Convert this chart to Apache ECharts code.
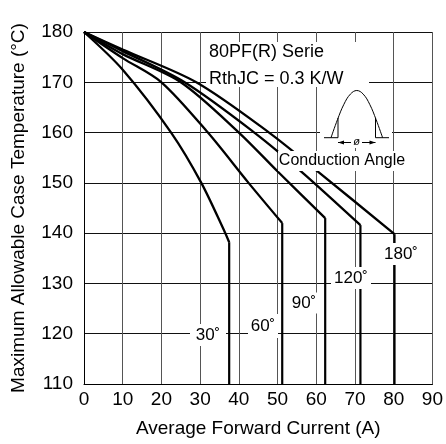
<!DOCTYPE html>
<html>
<head>
<meta charset="utf-8">
<script src="https://cdn.jsdelivr.net/npm/echarts@6/dist/echarts.min.js"></script>
<style>
html,body{margin:0;padding:0;background:#fff;}
#chart{width:446px;height:444px;}
</style>
</head>
<body>
<div id="chart"></div>
<script>
// ---- data ----
const xTicks = [0, 10, 20, 30, 40, 50, 60, 70, 80, 90];
const yTicks = [110, 120, 130, 140, 150, 160, 170, 180];
const angleNames = ['30˚', '60˚', '90˚', '120˚', '180˚'];
const curve30  = [[0,180],[10,172.5],[22.5,160],[30.3,150],[36.5,140],[37.5,138.2]];
const curve60  = [[0,180],[10,174.8],[20,170],[32,160],[42.5,150],[51.2,142]];
const curve90  = [[0,180],[10,175.6],[25,170],[40,160],[50.1,152.2],[62.3,143]];
const curve120 = [[0,180],[10,176.2],[26,170],[44,160],[56.2,152.2],[71.4,141.6]];
const curve180 = [[0,180],[10,176.5],[29,170],[47.8,160],[60.5,152.2],[80.2,139.8]];
const dropBottom = 110;

const curves = [curve30, curve60, curve90, curve120, curve180];

const series = [];
curves.forEach((c, i) => {
  series.push({
    type: 'line', name: angleNames[i], data: c, smooth: 0.3,
    showSymbol: false, lineStyle: {color: '#000', width: 2.3}, z: 2, animation: false
  });
  const last = c[c.length - 1];
  series.push({
    type: 'line', name: angleNames[i] + ' drop', data: [last, [last[0], dropBottom]],
    showSymbol: false, lineStyle: {color: '#000', width: 2.2}, z: 2, animation: false
  });
});

const FONT = 'Liberation Sans, Arial, sans-serif';

function labelBox(cx, cy, w, h, text, size) {
  return [
    {type: 'rect', z: 10, shape: {x: cx - w / 2, y: cy - h / 2, width: w, height: h}, style: {fill: '#fff'}},
    {type: 'text', z: 11, x: cx, y: cy, style: {text: text, fill: '#000', font: size + 'px ' + FONT, align: 'center', verticalAlign: 'middle'}}
  ];
}

const graphics = [].concat(
  // series box
  [{type: 'rect', z: 1, shape: {x: 206, y: 42, width: 163, height: 45}, style: {fill: '#fff'}},
   {type: 'text', z: 11, x: 209, y: 52, style: {text: '80PF(R) Serie', fill: '#000', font: '18px ' + FONT, verticalAlign: 'middle'}},
   {type: 'text', z: 11, x: 209, y: 79, style: {text: 'RthJC = 0.3 K/W', fill: '#000', font: '18px ' + FONT, verticalAlign: 'middle'}}],
  // icon
  [{type: 'rect', z: 1, shape: {x: 320, y: 84, width: 72, height: 64}, style: {fill: '#fff'}},
   {type: 'polyline', z: 11, shape: {points: [[331,137.7],[337.5,119.6],[343.9,104.3],[350.4,94.1],[356.8,90.5],[363.2,94.1],[369.7,104.3],[376.1,119.6],[382.6,137.7]], smooth: 0.4}, style: {stroke: '#000', lineWidth: 1, fill: null}},
   {type: 'line', z: 11, shape: {x1: 324, y1: 137.7, x2: 338, y2: 137.7}, style: {stroke: '#000', lineWidth: 1}},
   {type: 'line', z: 11, shape: {x1: 375.5, y1: 137.7, x2: 389, y2: 137.7}, style: {stroke: '#000', lineWidth: 1}},
   {type: 'line', z: 11, shape: {x1: 338, y1: 137.7, x2: 338, y2: 118}, style: {stroke: '#000', lineWidth: 1}},
   {type: 'line', z: 11, shape: {x1: 375.5, y1: 137.7, x2: 375.5, y2: 118}, style: {stroke: '#000', lineWidth: 1}},
   {type: 'line', z: 11, shape: {x1: 338, y1: 142.5, x2: 375.5, y2: 142.5}, style: {stroke: '#000', lineWidth: 1}},
   {type: 'polygon', z: 11, shape: {points: [[338,142.5],[344,140.5],[344,144.5]]}, style: {fill: '#000'}},
   {type: 'polygon', z: 11, shape: {points: [[375.5,142.5],[369.5,140.5],[369.5,144.5]]}, style: {fill: '#000'}},
   {type: 'rect', z: 11, shape: {x: 351, y: 136, width: 11, height: 10}, style: {fill: '#fff'}},
   {type: 'text', z: 12, x: 356.7, y: 141.5, style: {text: 'ø', fill: '#000', font: 'italic 11px ' + FONT, align: 'center', verticalAlign: 'middle'}}],
  labelBox(342, 161, 128, 20, 'Conduction Angle', 16),
  labelBox(208, 335, 36, 22, angleNames[0], 17),
  labelBox(263, 326, 30, 24, angleNames[1], 17),
  labelBox(304, 303, 26, 21, angleNames[2], 17),
  labelBox(351, 278, 40, 22, angleNames[3], 17),
  labelBox(401, 254, 34, 22, angleNames[4], 17)
);

const chart = echarts.init(document.getElementById('chart'), null, {renderer: 'canvas'});
chart.setOption({
  animation: false,
  backgroundColor: '#fff',
  grid: {left: 84, right: 13, top: 32, bottom: 60, containLabel: false},
  xAxis: {
    type: 'value', min: xTicks[0], max: xTicks[xTicks.length - 1], interval: 10,
    name: 'Average Forward Current (A)', nameLocation: 'middle', nameGap: 35,
    nameTextStyle: {fontSize: 19, color: '#000', fontFamily: FONT},
    axisLine: {show: true, lineStyle: {color: '#000', width: 1}},
    axisTick: {show: false},
    axisLabel: {fontSize: 19, color: '#000', fontFamily: FONT, margin: 6},
    splitLine: {show: true, lineStyle: {color: '#555', width: 1}}
  },
  yAxis: {
    type: 'value', min: yTicks[0], max: yTicks[yTicks.length - 1], interval: 10,
    name: 'Maximum Allowable Case Temperature (°C)', nameLocation: 'middle', nameGap: 56,
    nameTextStyle: {fontSize: 19, color: '#000', fontFamily: FONT},
    axisLine: {show: true, lineStyle: {color: '#000', width: 1}},
    axisTick: {show: false},
    axisLabel: {fontSize: 19, color: '#000', fontFamily: FONT, margin: 11},
    splitLine: {show: true, lineStyle: {color: '#111', width: 1}}
  },
  series: series,
  graphic: {elements: graphics}
});
</script>
</body>
</html>
